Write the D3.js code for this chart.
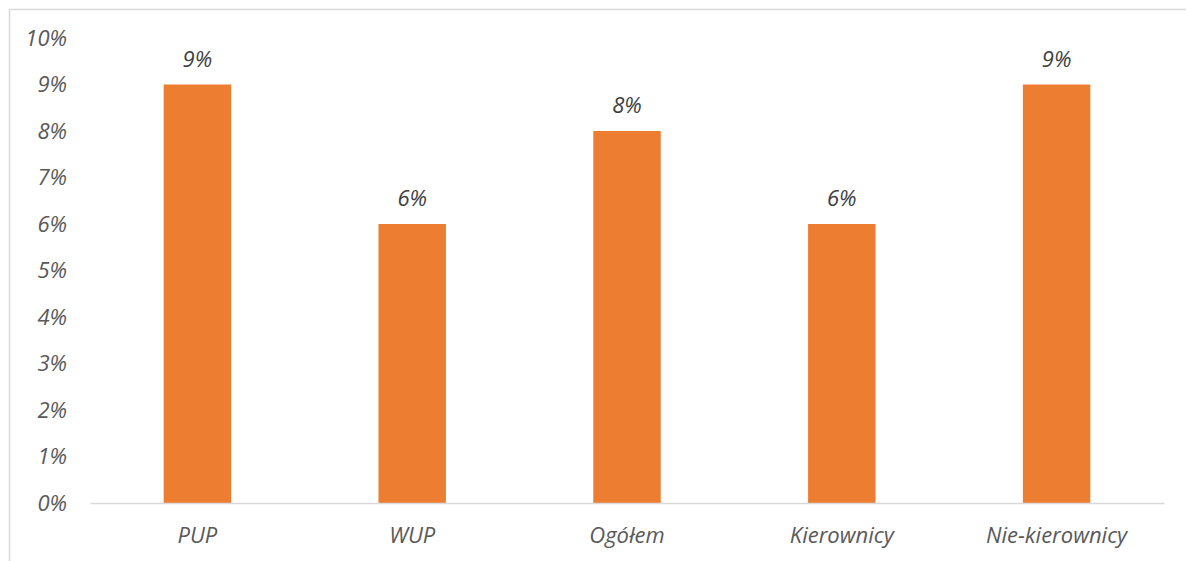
<!DOCTYPE html>
<html><head><meta charset="utf-8">
<script src="https://cdn.jsdelivr.net/npm/d3@7"></script>
<style>body{margin:0;background:#fff;}svg{display:block;}</style>
</head><body>
<script>
const categories = ["PUP", "WUP", "Ogółem", "Kierownicy", "Nie-kierownicy"];
const values = [9, 6, 8, 6, 9];
const yTicks = [0,1,2,3,4,5,6,7,8,9,10];

const W = 1186, H = 561;
const svg = d3.select("body").append("svg").attr("width", W).attr("height", H);
svg.append("rect").attr("x", 9.5).attr("y", 9.5).attr("width", W + 10).attr("height", H + 10)
  .attr("fill", "#fff").attr("stroke", "#d9d9d9").attr("stroke-width", 1.5);

const x = d3.scaleBand().domain(categories).range([90, 1164]).paddingInner(0.686).paddingOuter(0.343);
const y = d3.scaleLinear().domain([0, 10]).range([503, 38]);
const font = "'Open Sans', Lato, sans-serif";
const fs = 22;

const yAxis = svg.append("g").attr("transform", "translate(90,0)")
  .call(d3.axisLeft(y).tickValues(yTicks).tickFormat(d => d + "%").tickSize(0).tickPadding(23));
yAxis.select(".domain").remove();
yAxis.selectAll("text").attr("font-family", font).attr("font-style", "italic")
  .attr("font-size", fs).attr("fill", "#595959");

svg.selectAll("rect.bar").data(values).enter().append("rect").attr("class", "bar")
  .attr("x", (d, i) => x(categories[i])).attr("width", x.bandwidth())
  .attr("y", d => y(d)).attr("height", d => y(0) - y(d)).attr("fill", "#ED7D31");

const xAxis = svg.append("g").attr("transform", "translate(0,503)")
  .call(d3.axisBottom(x).tickSize(0).tickPadding(24));
xAxis.select(".domain").attr("stroke", "#d9d9d9").attr("stroke-width", 1.5);
xAxis.selectAll("text").attr("font-family", font).attr("font-style", "italic")
  .attr("font-size", fs).attr("fill", "#595959");

svg.selectAll("text.val").data(values).enter().append("text").attr("class", "val")
  .attr("x", (d, i) => x(categories[i]) + x.bandwidth() / 2).attr("y", d => y(d) - 18)
  .attr("text-anchor", "middle").attr("font-family", font).attr("font-style", "italic")
  .attr("font-size", fs).attr("fill", "#404040").text(d => d + "%");
</script>
</body></html>
